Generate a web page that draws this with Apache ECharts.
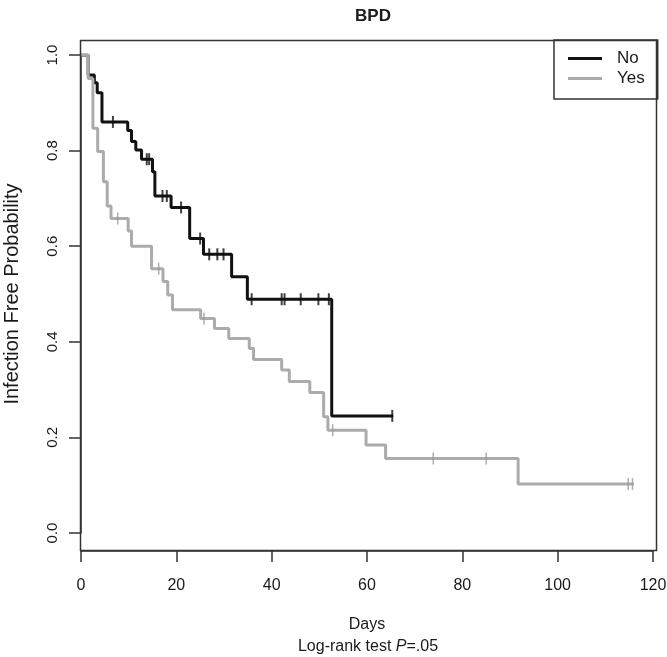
<!DOCTYPE html>
<html>
<head>
<meta charset="utf-8">
<script src="https://cdn.jsdelivr.net/npm/echarts@6/dist/echarts.min.js"></script>
<style>
html,body{margin:0;padding:0;background:#fff;}
#chart{width:667px;height:657px;}
</style>
</head>
<body>
<div id="chart"></div>
<script>
// ---- Data ----
const chartTitle = 'BPD';
const xTitle = 'Days';
const yTitle = 'Infection Free Probability';
const xTicks = [0, 20, 40, 60, 80, 100, 120];
const yTicks = [0.0, 0.2, 0.4, 0.6, 0.8, 1.0];
const groupNames = ['No', 'Yes'];

// "No" group: Kaplan-Meier step points (time in days, survival)
const noTimes = [0, 1.5, 2.8, 3.4, 4.4, 9.8, 10.6, 11.5, 12.7, 15.0, 15.5, 18.9, 22.8, 25.7, 31.6, 34.9, 52.6, 65.5];
const noSurv  = [1.0, 0.958, 0.942, 0.921, 0.860, 0.842, 0.819, 0.801, 0.782, 0.756, 0.705, 0.681, 0.616, 0.583, 0.536, 0.489, 0.245, 0.245];
const noCensorTimes = [6.7, 13.8, 14.3, 17.1, 18.0, 21.0, 25.0, 26.9, 28.6, 29.9, 35.8, 42.1, 42.7, 46.1, 49.8, 52.0, 65.3];
const noCensorSurv  = [0.860, 0.782, 0.782, 0.705, 0.705, 0.681, 0.616, 0.583, 0.583, 0.583, 0.489, 0.489, 0.489, 0.489, 0.489, 0.489, 0.245];

// "Yes" group
const yesTimes = [0, 1.5, 2.5, 3.5, 4.7, 5.5, 6.3, 9.9, 10.6, 14.8, 17.2, 18.2, 19.2, 25.1, 28.0, 31.0, 35.3, 36.2, 42.1, 43.7, 48.0, 50.9, 51.8, 59.8, 63.9, 91.7, 116.0];
const yesSurv  = [1.0, 0.951, 0.847, 0.798, 0.735, 0.684, 0.658, 0.632, 0.600, 0.553, 0.526, 0.498, 0.467, 0.449, 0.428, 0.407, 0.386, 0.363, 0.341, 0.317, 0.294, 0.243, 0.215, 0.184, 0.156, 0.1025, 0.1025];
const yesCensorTimes = [7.7, 16.3, 25.8, 52.8, 73.9, 85.0, 114.8, 115.7];
const yesCensorSurv  = [0.658, 0.553, 0.449, 0.215, 0.156, 0.156, 0.1025, 0.1025];

const pValueText = ['Log-rank test ', 'P', '=.05'];

// ---- Build ----
const zip = (a, b) => a.map((v, i) => [v, b[i]]);
const FONT = "'Liberation Sans Narrow', 'Arial Narrow', 'Liberation Sans', Arial, sans-serif";
const TXT = '#1a1a1a';
const AX = '#333';
const BLACK = '#111111';
const GRAY = '#ababab';

const chart = echarts.init(document.getElementById('chart'), null, {renderer: 'canvas'});
chart.setOption({
  animation: false,
  backgroundColor: '#fff',
  title: {
    text: chartTitle,
    left: 368, top: 3, textAlign: 'center',
    textStyle: {fontFamily: FONT, fontSize: 17, fontWeight: 'bold', color: TXT}
  },
  legend: {
    data: groupNames.map(n => ({name: n})),
    orient: 'vertical',
    left: 554, top: 40,
    padding: [10, 13, 12, 14],
    itemGap: 3,
    itemWidth: 34, itemHeight: 3,
    icon: 'rect',
    borderColor: AX, borderWidth: 1.5,
    backgroundColor: '#fff',
    textStyle: {fontFamily: FONT, fontSize: 17, color: TXT, padding: [0, 0, 0, 10]}
  },
  grid: {left: 81, right: 14, top: 55, bottom: 124, containLabel: false, outerBoundsMode: 'none'},
  xAxis: {
    type: 'value', min: xTicks[0], max: xTicks[xTicks.length - 1], interval: 20,
    offset: 18,
    name: xTitle, nameLocation: 'middle', nameGap: 66,
    nameTextStyle: {fontFamily: FONT, fontSize: 16, color: TXT},
    axisLine: {show: true, onZero: false, lineStyle: {color: AX, width: 1.5}},
    axisTick: {show: true, length: 11, lineStyle: {color: AX, width: 1.5}},
    axisLabel: {margin: 27, fontFamily: FONT, fontSize: 16, color: TXT,
      formatter: v => String(v)},
    splitLine: {show: false}
  },
  yAxis: {
    type: 'value', min: yTicks[0], max: yTicks[yTicks.length - 1], interval: 0.2,
    name: yTitle, nameLocation: 'middle', nameGap: 59, nameRotate: 90,
    nameTextStyle: {fontFamily: FONT, fontSize: 20, color: TXT},
    axisLine: {show: true, onZero: false, lineStyle: {color: AX, width: 1.5}},
    axisTick: {show: true, length: 12, lineStyle: {color: AX, width: 1.5}},
    axisLabel: {margin: 21, rotate: 90, fontFamily: FONT, fontSize: 15, color: TXT,
      formatter: v => v.toFixed(1)},
    splitLine: {show: false}
  },
  graphic: [
    {type: 'rect', z: 100, silent: true,
     shape: {x: 80.5, y: 40.5, width: 576, height: 510},
     style: {fill: 'none', stroke: AX, lineWidth: 1.5}},
    {type: 'text', z: 100, silent: true,
     style: {x: 368, y: 647, align: 'center', verticalAlign: 'middle',
       text: '{a|' + pValueText[0] + '}{i|' + pValueText[1] + '}{a|' + pValueText[2] + '}',
       rich: {
         a: {fontFamily: FONT, fontSize: 16, fill: TXT},
         i: {fontFamily: FONT, fontSize: 16, fontStyle: 'italic', fill: TXT}
       }}}
  ],
  series: [
    {name: groupNames[0], type: 'line', step: 'end', data: zip(noTimes, noSurv),
     showSymbol: false, symbol: 'none', z: 2,
     color: BLACK, lineStyle: {color: BLACK, width: 3}},
    {name: groupNames[1], type: 'line', step: 'end', data: zip(yesTimes, yesSurv),
     showSymbol: false, symbol: 'none', z: 3,
     color: GRAY, lineStyle: {color: GRAY, width: 3}},
    {name: 'No censored', type: 'scatter', data: zip(noCensorTimes, noCensorSurv),
     symbol: 'rect', symbolSize: [2, 12], z: 4,
     itemStyle: {color: BLACK}},
    {name: 'Yes censored', type: 'scatter', data: zip(yesCensorTimes, yesCensorSurv),
     symbol: 'rect', symbolSize: [1.5, 12], z: 5,
     itemStyle: {color: '#9a9a9a'}}
  ]
});
</script>
</body>
</html>
